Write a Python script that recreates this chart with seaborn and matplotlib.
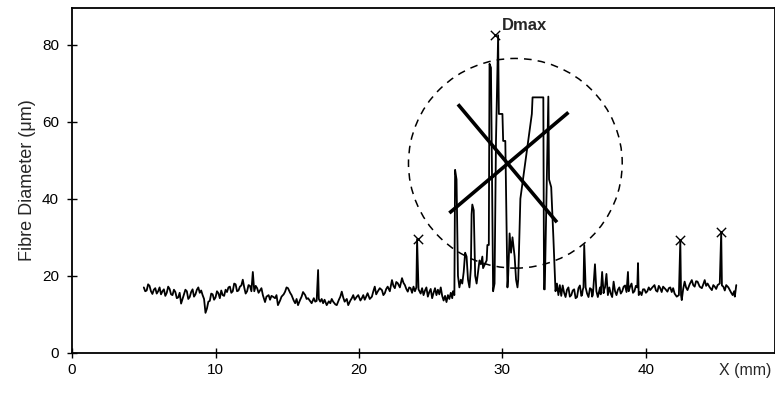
import matplotlib
matplotlib.use("Agg")
import matplotlib.pyplot as plt
from matplotlib.patches import Ellipse
import seaborn as sns
import pandas as pd

# fibre diameter trace (x in mm, diameter in um)
x_mm = [
    5.0, 5.1, 5.2, 5.3, 5.4, 5.5, 5.6, 5.7, 5.8, 5.9, 6.0, 6.1, 6.2, 6.3, 6.4, 6.5,
    6.6, 6.7, 6.8, 6.9, 7.0, 7.1, 7.2, 7.3, 7.4, 7.5, 7.6, 7.7, 7.8, 7.9, 8.0, 8.1,
    8.2, 8.3, 8.4, 8.5, 8.6, 8.7, 8.8, 8.9, 9.0, 9.1, 9.2, 9.3, 9.4, 9.5, 9.6, 9.7,
    9.8, 9.9, 10.0, 10.1, 10.2, 10.3, 10.4, 10.5, 10.6, 10.7, 10.8, 10.9, 11.0, 11.1,
    11.2, 11.3, 11.4, 11.5, 11.6, 11.7, 11.8, 11.9, 12.0, 12.1, 12.2, 12.3, 12.4, 12.5,
    12.6, 12.7, 12.8, 12.9, 13.0, 13.1, 13.2, 13.3, 13.45, 13.55, 13.7, 13.8, 13.9, 14.0,
    14.15, 14.25, 14.35, 14.5, 14.6, 14.75, 14.85, 14.95, 15.05, 15.2, 15.3, 15.45, 15.55,
    15.65, 15.75, 15.9, 16.0, 16.1, 16.25, 16.35, 16.45, 16.6, 16.7, 16.85, 16.95, 17.05,
    17.15, 17.2, 17.3, 17.4, 17.5, 17.6, 17.75, 17.9, 18.0, 18.1, 18.2, 18.35, 18.45, 18.6,
    18.7, 18.8, 18.9, 19.0, 19.15, 19.25, 19.4, 19.5, 19.6, 19.7, 19.85, 19.95, 20.1, 20.2,
    20.3, 20.4, 20.5, 20.6, 20.75, 20.9, 21.0, 21.1, 21.2, 21.3, 21.45, 21.6, 21.7, 21.8,
    21.9, 22.0, 22.15, 22.3, 22.4, 22.5, 22.6, 22.7, 22.85, 23.0, 23.1, 23.2, 23.3, 23.4,
    23.5, 23.6, 23.7, 23.8, 23.9, 24.0, 24.05, 24.15, 24.3, 24.4, 24.5, 24.6, 24.7, 24.8,
    24.9, 25.0, 25.1, 25.2, 25.3, 25.4, 25.5, 25.6, 25.7, 25.8, 25.9, 26.0, 26.1, 26.2,
    26.3, 26.4, 26.5, 26.55, 26.65, 26.7, 26.8, 26.9, 27.0, 27.1, 27.2, 27.3, 27.4, 27.5,
    27.6, 27.7, 27.8, 27.85, 27.9, 28.0, 28.1, 28.2, 28.3, 28.4, 28.5, 28.6, 28.65, 28.9,
    28.95, 29.0, 29.05, 29.1, 29.2, 29.35, 29.45, 29.55, 29.7, 29.75, 30.0, 30.05, 30.2,
    30.35, 30.4, 30.5, 30.6, 30.7, 30.85, 30.95, 31.05, 31.1, 31.25, 32.05, 32.1, 32.85,
    32.9, 32.95, 33.2, 33.25, 33.4, 33.55, 33.7, 33.8, 33.9, 34.0, 34.1, 34.2, 34.3,
    34.4, 34.5, 34.6, 34.7, 34.8, 34.9, 35.0, 35.1, 35.2, 35.3, 35.4, 35.5, 35.55, 35.6,
    35.65, 35.7, 35.8, 35.9, 36.0, 36.1, 36.2, 36.25, 36.3, 36.35, 36.45, 36.55, 36.65,
    36.75, 36.8, 36.85, 36.95, 37.05, 37.1, 37.15, 37.25, 37.35, 37.45, 37.55, 37.65, 37.7,
    37.75, 37.85, 37.95, 38.05, 38.15, 38.25, 38.35, 38.45, 38.55, 38.65, 38.75, 38.8,
    38.9, 39.0, 39.1, 39.2, 39.3, 39.4, 39.45, 39.5, 39.6, 39.7, 39.8, 39.9, 40.0, 40.1,
    40.2, 40.3, 40.45, 40.6, 40.7, 40.8, 40.9, 41.0, 41.1, 41.2, 41.35, 41.5, 41.6, 41.7,
    41.8, 41.9, 42.0, 42.15, 42.3, 42.4, 42.45, 42.5, 42.6, 42.7, 42.8, 42.9, 43.05, 43.2,
    43.3, 43.4, 43.5, 43.6, 43.75, 43.9, 44.0, 44.1, 44.2, 44.3, 44.45, 44.6, 44.7, 44.8,
    44.9, 45.0, 45.15, 45.25, 45.3, 45.4, 45.5, 45.6, 45.75, 45.85, 45.95, 46.05, 46.15,
    46.2, 46.3,
]
diam_um = [
    17.0, 16.0, 16.2, 17.8, 17.4, 16.0, 15.3, 16.4, 16.8, 15.4, 16.0, 17.0, 15.2, 16.0, 16.5, 14.8,
    15.6, 17.2, 16.6, 15.2, 15.0, 16.4, 15.8, 14.2, 14.4, 15.6, 12.8, 14.0, 15.2, 16.4, 16.0, 14.0,
    14.5, 15.8, 16.5, 14.6, 15.2, 16.4, 17.0, 15.6, 16.2, 15.0, 14.0, 10.4, 11.5, 13.3, 13.5, 15.4,
    15.2, 13.8, 14.4, 16.0, 15.5, 14.2, 16.2, 15.0, 14.8, 16.4, 15.8, 17.0, 17.2, 15.6, 16.0, 18.0,
    17.8, 16.0, 16.2, 17.2, 17.5, 19.0, 17.0, 15.4, 16.0, 17.6, 17.4, 16.0, 21.0, 16.0, 17.4,
    16.8, 15.6, 16.2, 16.8, 15.0, 13.2, 14.6, 15.0, 13.8, 14.8, 14.6, 14.2, 15.0, 12.4, 13.6,
    14.6, 15.2, 15.9, 17.0, 16.8, 15.6, 15.0, 13.6, 12.9, 14.0, 12.4, 13.8, 14.6, 15.8, 15.0,
    14.0, 14.2, 13.4, 12.9, 14.2, 13.3, 13.5, 21.5, 14.0, 13.3, 14.0, 12.9, 13.8, 12.4, 13.4,
    12.9, 14.0, 13.3, 12.6, 12.4, 13.8, 14.6, 15.9, 14.4, 13.3, 14.0, 12.4, 13.6, 14.2, 15.0,
    13.8, 14.6, 15.0, 13.6, 14.2, 15.0, 13.8, 14.6, 15.5, 14.0, 14.6, 16.0, 17.2, 15.2, 15.9,
    16.8, 16.3, 15.0, 15.5, 16.6, 17.2, 16.0, 18.9, 17.4, 16.8, 18.4, 18.1, 17.0, 19.4, 18.2,
    17.6, 16.6, 15.9, 17.0, 16.8, 15.6, 17.2, 16.0, 17.0, 29.5, 16.5, 15.4, 16.8, 15.0, 16.2,
    17.0, 14.6, 15.8, 16.6, 14.2, 15.6, 16.8, 15.0, 16.4, 15.2, 17.0, 14.8, 13.6, 14.8, 13.2,
    15.0, 14.0, 15.6, 14.2, 16.0, 15.0, 47.5, 45.0, 20.0, 17.0, 19.0, 18.0, 21.0, 26.0, 25.0,
    19.0, 17.0, 22.0, 36.0, 38.5, 37.0, 20.0, 18.0, 21.0, 24.0, 23.0, 25.0, 22.0, 24.0, 28.0,
    28.0, 28.0, 75.0, 74.0, 16.0, 18.0, 55.0, 82.4, 62.0, 62.0, 55.0, 55.0, 17.0, 20.0, 31.0,
    26.0, 30.0, 25.0, 19.0, 17.0, 19.0, 40.0, 62.0, 66.3, 66.3, 16.5, 16.5, 66.5, 45.0, 43.0,
    30.0, 16.0, 18.0, 15.0, 17.6, 14.8, 17.5, 15.6, 14.5, 16.4, 17.0, 14.6, 15.0, 16.2, 16.5,
    14.2, 14.5, 16.8, 17.5, 14.8, 15.0, 16.4, 17.0, 28.0, 17.0, 15.4, 14.5, 16.8, 16.5, 14.6,
    15.0, 17.4, 23.0, 16.0, 14.5, 16.2, 17.0, 15.2, 21.0, 15.5, 16.5, 17.0, 20.5, 15.0, 17.0,
    15.4, 14.5, 16.6, 18.5, 16.0, 15.0, 16.4, 17.0, 15.4, 16.0, 17.2, 17.5, 15.8, 21.0, 16.0,
    17.2, 18.0, 15.6, 16.0, 17.4, 17.0, 23.3, 15.0, 15.8, 15.0, 16.5, 16.5, 15.6, 16.0, 17.0,
    16.3, 17.0, 17.6, 16.2, 15.9, 17.4, 16.8, 15.8, 17.2, 16.6, 15.9, 16.8, 17.0, 15.8, 16.8,
    15.4, 14.6, 15.0, 29.3, 15.0, 13.7, 16.6, 18.5, 17.0, 16.3, 17.8, 18.9, 17.6, 17.2, 18.6,
    18.5, 17.2, 16.8, 17.8, 18.9, 17.4, 18.0, 17.0, 16.3, 17.6, 17.2, 16.6, 17.6, 18.0, 31.4,
    17.5, 17.2, 16.2, 17.6, 17.0, 16.3, 15.6, 15.0, 16.0, 14.6, 17.6,
]

# crosses on the individual peaks
peak_x = [24.1, 29.45, 42.4, 45.25]
peak_y = [29.5, 82.4, 29.3, 31.4]

# dashed circle around the defect zone and the two crossing lines
circle_center = (30.9, 49.2)
circle_w, circle_h = 14.9, 54.4
line_a_x, line_a_y = [26.9, 33.8], [64.5, 33.9]
line_b_x, line_b_y = [26.3, 34.6], [36.3, 62.4]

df = pd.DataFrame({"x": x_mm, "d": diam_um})
peaks = pd.DataFrame({"x": peak_x, "d": peak_y})

sns.set_theme(style="ticks")
plt.rcParams["font.family"] = ["Liberation Sans", "DejaVu Sans"]

fig = plt.figure(figsize=(7.75, 3.97), dpi=100)
ax = fig.add_axes([0.093, 0.111, 0.907, 0.869])

sns.lineplot(data=df, x="x", y="d", sort=False, estimator=None,
             color="black", linewidth=1.3, ax=ax)
sns.scatterplot(data=peaks, x="x", y="d", marker="x", color="black",
                s=45, linewidth=1.0, ax=ax, zorder=5)

ax.add_patch(Ellipse(circle_center, circle_w, circle_h, fill=False,
                     edgecolor="black", linestyle=(0, (5, 4)), linewidth=1.1))
ax.plot(line_a_x, line_a_y, color="black", linewidth=2.6, solid_capstyle="butt")
ax.plot(line_b_x, line_b_y, color="black", linewidth=2.6, solid_capstyle="butt")

ax.text(29.95, 85.0, "Dmax", fontsize=12, fontweight="bold", ha="left", va="center")

ax.set_xlim(0, 49)
ax.set_ylim(0, 89.5)
ax.set_xticks([0, 10, 20, 30, 40])
ax.set_yticks([0, 20, 40, 60, 80])
ax.tick_params(direction="inout", length=7, width=1.0, labelsize=11,
               colors="black", pad=4)
ax.tick_params(axis="y", pad=6)
for s in ax.spines.values():
    s.set_visible(True)
    s.set_linewidth(1.3)
    s.set_color("black")

ax.set_xlabel("")
ax.set_ylabel("Fibre Diameter (\u03bcm)", fontsize=13, labelpad=4)
ax.text(46.9, -0.05, "X (mm)", transform=ax.get_xaxis_transform(),
        fontsize=11.5, ha="center", va="center")

fig.savefig("out.png", dpi=100)
